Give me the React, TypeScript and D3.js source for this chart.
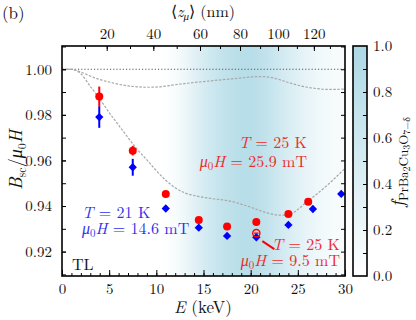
import React, { useEffect, useRef } from "react";
import * as d3 from "d3";

// muon energies (keV) and normalised field values
const redEnergy = [3.95, 7.5, 11, 14.5, 17.5, 20.6, 24, 26.1];
const redValue = [0.988, 0.9643, 0.9453, 0.9339, 0.931, 0.933, 0.9365, 0.9419];
const redError = [0.0044, 0.0021, 0.0008, 0.0008, 0.0008, 0.0008, 0.0008, 0.0008];

const blueEnergy = [3.95, 7.5, 11, 14.5, 17.5, 20.6, 24, 26.6, 29.6];
const blueValue = [0.979, 0.957, 0.9389, 0.9305, 0.9269, 0.9263, 0.9317, 0.9387, 0.9453];
const blueError = [0.0047, 0.0037, 0.0008, 0.0008, 0.0008, 0.0008, 0.0008, 0.0008, 0.0008];

const openEnergy = [20.6];
const openValue = [0.9281];

// model curves
const curveEnergy = [0, 1, 2, 3, 4, 5, 6, 7, 8, 9, 10, 11, 12, 13, 14, 15, 16, 17, 18, 19, 20, 21, 22, 23, 24, 25, 26, 27, 28, 29, 30];
const lowerCurve = [1.0, 1.0, 0.998, 0.9925, 0.987, 0.981, 0.9755, 0.97, 0.9648, 0.9602, 0.9555, 0.9513, 0.948, 0.9458, 0.9446, 0.9438, 0.9432, 0.9427, 0.942, 0.9408, 0.9395, 0.938, 0.9367, 0.936, 0.936, 0.9385, 0.942, 0.9452, 0.9487, 0.9525, 0.9565];
const upperCurve = [1.0, 1.0, 0.9988, 0.997, 0.9955, 0.9944, 0.9934, 0.9927, 0.9923, 0.9921, 0.9922, 0.9926, 0.9932, 0.9937, 0.9942, 0.9946, 0.995, 0.9954, 0.9958, 0.9962, 0.9966, 0.9968, 0.9965, 0.9955, 0.9942, 0.993, 0.9921, 0.9915, 0.9912, 0.9912, 0.9913];

// PrBa2Cu3O7 fraction seen by the muons vs energy (background shading)
const fraction = [0, 0, 0, 0, 0, 0, 0, 0, 0, 0, 0, 0.02, 0.08, 0.2, 0.35, 0.5, 0.62, 0.72, 0.8, 0.85, 0.85, 0.8, 0.7, 0.58, 0.47, 0.37, 0.28, 0.2, 0.14, 0.1, 0.07];

// top axis: mean depth (nm) and the energy it corresponds to
const depthTicks = [10, 20, 30, 40, 50, 60, 70, 80, 90, 100, 110, 120, 130];
const depthEnergy = [2.44, 4.74, 7.21, 9.68, 12.16, 14.63, 16.75, 18.87, 21.0, 22.9, 24.9, 26.7, 28.4];
const depthLabels = [20, 40, 60, 80, 100, 120];

const font = "'Latin Modern Roman', 'CMU Serif', 'Liberation Serif', serif";
const red = "#ff0000";
const blue = "#0000ff";
const redText = "#ee2a2a";
const blueText = "#3030ee";
const maxBlue = "#acd8e5";

const App = () => {
  const svgRef = useRef<SVGSVGElement>(null);

  useEffect(() => {
    const svg = d3.select(svgRef.current);
    svg.selectAll(".plot").remove();
    // keep the plot under the JSX labels
    const g = svg.insert("g", ":first-child").attr("class", "plot");

    const x = d3.scaleLinear().domain([0, 30]).range([62, 345]);
    const y = d3.scaleLinear().domain([0.9093, 1.0102]).range([276, 46]);
    const cb = d3.scaleLinear().domain([0, 1]).range([276, 46]);
    const shade = d3.interpolateRgb("#ffffff", maxBlue);
    const depthToE = d3.scaleLinear().domain(depthTicks).range(depthEnergy);

    // gradients
    const defs = g.append("defs");
    const bg = defs
      .append("linearGradient")
      .attr("id", "bgGrad")
      .attr("gradientUnits", "userSpaceOnUse")
      .attr("x1", x(0))
      .attr("x2", x(30))
      .attr("y1", 0)
      .attr("y2", 0);
    fraction.forEach((f, i) => {
      bg.append("stop")
        .attr("offset", curveEnergy[i] / 30)
        .attr("stop-color", shade(f));
    });
    const cg = defs
      .append("linearGradient")
      .attr("id", "cbGrad")
      .attr("x1", 0)
      .attr("x2", 0)
      .attr("y1", 1)
      .attr("y2", 0);
    cg.append("stop").attr("offset", 0).attr("stop-color", shade(0));
    cg.append("stop").attr("offset", 1).attr("stop-color", shade(1));

    g.append("rect")
      .attr("x", x(0))
      .attr("y", y.range()[1])
      .attr("width", x(30) - x(0))
      .attr("height", y.range()[0] - y.range()[1])
      .attr("fill", "url(#bgGrad)");

    // reference line and model curves
    g.append("line")
      .attr("x1", x(0))
      .attr("x2", x(30))
      .attr("y1", y(1))
      .attr("y2", y(1))
      .attr("stroke", "#555")
      .attr("stroke-width", 1)
      .attr("stroke-dasharray", "1.2,2");

    const line = d3
      .line<number>()
      .x((d, i) => x(curveEnergy[i]))
      .y((d) => y(d))
      .curve(d3.curveMonotoneX);
    [upperCurve, lowerCurve].forEach((c) => {
      g.append("path")
        .attr("d", line(c))
        .attr("fill", "none")
        .attr("stroke", "#a8a8a8")
        .attr("stroke-width", 1.2)
        .attr("stroke-dasharray", "2.5,1.5");
    });

    // error bars
    const errs = (es: number[], vs: number[], er: number[], col: string) => {
      g.selectAll(null)
        .data(es)
        .join("line")
        .attr("x1", (d) => x(d))
        .attr("x2", (d) => x(d))
        .attr("y1", (d, i) => y(vs[i] + er[i]))
        .attr("y2", (d, i) => y(vs[i] - er[i]))
        .attr("stroke", col)
        .attr("stroke-width", 2);
    };
    errs(redEnergy, redValue, redError, red);
    errs(blueEnergy, blueValue, blueError, blue);

    g.selectAll(null)
      .data(blueEnergy)
      .join("path")
      .attr("d", d3.symbol(d3.symbolDiamond2, 44)())
      .attr("transform", (d, i) => `translate(${x(d)},${y(blueValue[i])})`)
      .attr("fill", blue);

    g.selectAll(null)
      .data(redEnergy)
      .join("circle")
      .attr("cx", (d) => x(d))
      .attr("cy", (d, i) => y(redValue[i]))
      .attr("r", 4)
      .attr("fill", red);

    g.selectAll(null)
      .data(openEnergy)
      .join("circle")
      .attr("cx", (d) => x(d))
      .attr("cy", (d, i) => y(openValue[i]))
      .attr("r", 3.6)
      .attr("fill", "none")
      .attr("stroke", red)
      .attr("stroke-width", 1.4);
    g.selectAll(null)
      .data(openEnergy)
      .join("line")
      .attr("x1", (d) => x(d) - 2.2)
      .attr("x2", (d) => x(d) + 2.2)
      .attr("y1", (d, i) => y(openValue[i]))
      .attr("y2", (d, i) => y(openValue[i]))
      .attr("stroke", red)
      .attr("stroke-width", 1.4);

    // pointer to the open circle label
    g.append("line")
      .attr("x1", x(openEnergy[0]) + 6)
      .attr("y1", y(openValue[0]) + 8)
      .attr("x2", x(openEnergy[0]) + 18)
      .attr("y2", y(openValue[0]) + 16)
      .attr("stroke", red)
      .attr("stroke-width", 2);

    // axes (ticks drawn inward)
    const styleAxis = (sel: any) => {
      sel.select(".domain").remove();
      sel.selectAll("line").attr("stroke", "#000").attr("stroke-width", 1);
      sel.selectAll("text").attr("font-family", font).attr("font-size", 15).attr("fill", "#111");
    };
    const yTicks = d3.range(0.91, 1.0101, 0.01);
    const yMajor = [0.92, 0.94, 0.96, 0.98, 1.0];

    g.append("g")
      .attr("transform", `translate(0,${y.range()[0]})`)
      .call(d3.axisBottom(x).tickValues(d3.range(0, 31, 1)).tickSize(-3).tickFormat(() => ""))
      .call(styleAxis);
    g.append("g")
      .attr("transform", `translate(0,${y.range()[0]})`)
      .call(d3.axisBottom(x).tickValues([0, 5, 10, 15, 20, 25, 30]).tickSize(-6).tickPadding(7).tickFormat(d3.format("d")))
      .call(styleAxis);

    g.append("g")
      .attr("transform", `translate(0,${y.range()[1]})`)
      .call(d3.axisTop(x).tickValues(depthTicks.map((d) => depthToE(d))).tickSize(-3).tickFormat(() => ""))
      .call(styleAxis);
    g.append("g")
      .attr("transform", `translate(0,${y.range()[1]})`)
      .call(
        d3
          .axisTop(x)
          .tickValues(depthLabels.map((d) => depthToE(d)))
          .tickSize(-5)
          .tickPadding(7)
          .tickFormat((d, i) => String(depthLabels[i]))
      )
      .call(styleAxis);

    g.append("g")
      .attr("transform", `translate(${x(0)},0)`)
      .call(d3.axisLeft(y).tickValues(yTicks).tickSize(-4).tickFormat(() => ""))
      .call(styleAxis);
    g.append("g")
      .attr("transform", `translate(${x(0)},0)`)
      .call(d3.axisLeft(y).tickValues(yMajor).tickSize(-4).tickPadding(10).tickFormat(d3.format(".2f")))
      .call(styleAxis);
    g.append("g")
      .attr("transform", `translate(${x(30)},0)`)
      .call(d3.axisRight(y).tickValues(yTicks).tickSize(-4).tickFormat(() => ""))
      .call(styleAxis);

    g.append("rect")
      .attr("x", x(0))
      .attr("y", y.range()[1])
      .attr("width", x(30) - x(0))
      .attr("height", y.range()[0] - y.range()[1])
      .attr("fill", "none")
      .attr("stroke", "#000")
      .attr("stroke-width", 1.6);

    // colour bar
    const cbX = 353;
    const cbW = 14;
    g.append("rect")
      .attr("x", cbX)
      .attr("y", cb(1))
      .attr("width", cbW)
      .attr("height", cb(0) - cb(1))
      .attr("fill", "url(#cbGrad)")
      .attr("stroke", "#000")
      .attr("stroke-width", 1.6);
    g.append("g")
      .attr("transform", `translate(${cbX + cbW},0)`)
      .call(d3.axisRight(cb).tickValues(d3.range(0.1, 0.95, 0.1)).tickSize(-4).tickFormat(() => ""))
      .call(styleAxis);
    g.append("g")
      .attr("transform", `translate(${cbX + cbW},0)`)
      .call(d3.axisRight(cb).tickValues([0, 0.2, 0.4, 0.6, 0.8, 1.0]).tickSize(0).tickPadding(6).tickFormat(d3.format(".1f")))
      .call(styleAxis);
  }, []);

  return (
    <svg
      ref={svgRef}
      width={416}
      height={320}
      style={{ position: "absolute", left: 0, top: 0, background: "#fff" }}
      fontFamily={font}
    >
      <text x={2} y={19} fontSize={17} fill="#111">(b)</text>
      <text x={203} y={17} fontSize={16} textAnchor="middle" fill="#111">
        ⟨<tspan fontStyle="italic">z</tspan>
        <tspan fontSize={11} fontStyle="italic" dy={3}>μ</tspan>
        <tspan dy={-3}>⟩ (nm)</tspan>
      </text>
      <text x={203} y={313} fontSize={17} textAnchor="middle" fill="#111">
        <tspan fontStyle="italic">E</tspan> (keV)
      </text>
      <text transform="translate(22,160) rotate(-90)" fontSize={18} textAnchor="middle" fill="#111">
        <tspan fontStyle="italic">B</tspan>
        <tspan fontSize={12} dy={4}>sc</tspan>
        <tspan dy={-4}>/</tspan>
        <tspan fontStyle="italic">μ</tspan>
        <tspan fontSize={12} dy={4}>0</tspan>
        <tspan fontStyle="italic" dy={-4}>H</tspan>
      </text>
      <text transform="translate(404,162) rotate(-90)" fontSize={19} textAnchor="middle" fill="#111">
        <tspan fontStyle="italic">f</tspan>
        <tspan fontSize={13} dy={4}>PrBa</tspan>
        <tspan fontSize={10} dy={2}>2</tspan>
        <tspan fontSize={13} dy={-2}>Cu</tspan>
        <tspan fontSize={10} dy={2}>3</tspan>
        <tspan fontSize={13} dy={-2}>O</tspan>
        <tspan fontSize={10} dy={2}>7−δ</tspan>
      </text>
      <text x={72} y={270} fontSize={16} fill="#111">TL</text>
      <g fill={redText} fontSize={16} textAnchor="end">
        <text x={307} y={148}>
          <tspan fontStyle="italic">T</tspan> = 25 K
        </text>
        <text x={307} y={167}>
          <tspan fontStyle="italic">μ</tspan>
          <tspan fontSize={11} dy={3}>0</tspan>
          <tspan fontStyle="italic" dy={-3}>H</tspan> = 25.9 mT
        </text>
        <text x={340} y={250}>
          <tspan fontStyle="italic">T</tspan> = 25 K
        </text>
        <text x={340} y={266}>
          <tspan fontStyle="italic">μ</tspan>
          <tspan fontSize={11} dy={3}>0</tspan>
          <tspan fontStyle="italic" dy={-3}>H</tspan> = 9.5 mT
        </text>
      </g>
      <g fill={blueText} fontSize={16}>
        <text x={82} y={218}>
          <tspan fontStyle="italic">T</tspan> = 21 K
        </text>
        <text x={82} y={234}>
          <tspan fontStyle="italic">μ</tspan>
          <tspan fontSize={11} dy={3}>0</tspan>
          <tspan fontStyle="italic" dy={-3}>H</tspan> = 14.6 mT
        </text>
      </g>
    </svg>
  );
};

export default App;
